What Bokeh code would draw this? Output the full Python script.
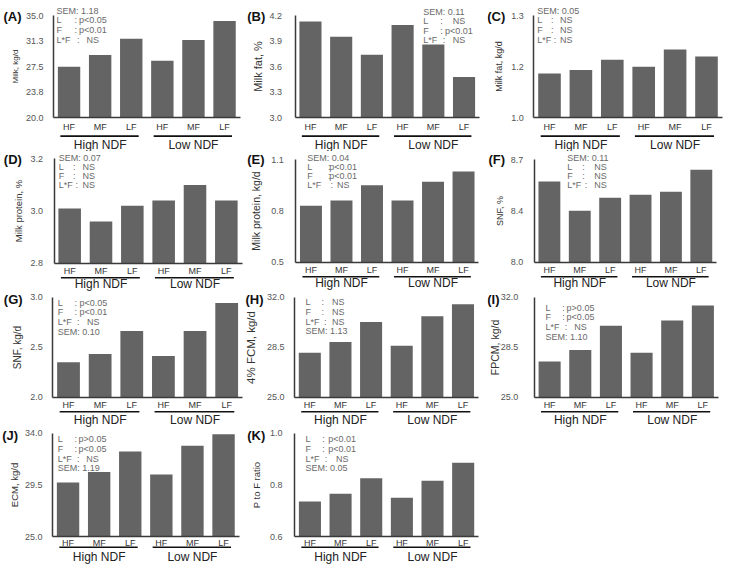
from bokeh.plotting import figure
from bokeh.models import Range1d, FixedTicker, LinearAxis, ColumnDataSource
from bokeh.layouts import gridplot
from bokeh.embed import file_html
from bokeh.resources import INLINE
from bokeh.core.properties import value

FONT = "Liberation Sans"

# ---------------- data ----------------
groups = ["High NDF", "Low NDF"]
forages = ["HF", "MF", "LF"]

milk_yield = [27.5, 29.2, 31.6, 28.35, 31.4, 34.2]
milk_fat_pct = [4.13, 3.95, 3.74, 4.09, 3.86, 3.48]
milk_fat_yield = [1.13, 1.14, 1.17, 1.15, 1.20, 1.18]
milk_protein_pct = [3.01, 2.96, 3.02, 3.04, 3.10, 3.04]
milk_protein_yield = [0.83, 0.86, 0.95, 0.86, 0.97, 1.03]
snf_pct = [8.55, 8.35, 8.44, 8.46, 8.48, 8.63]
snf_yield = [2.35, 2.43, 2.66, 2.41, 2.66, 2.94]
fcm_yield = [28.1, 28.85, 30.25, 28.6, 30.65, 31.5]
fpcm_yield = [27.5, 28.3, 30.0, 28.1, 30.35, 31.4]
ecm_yield = [29.7, 30.6, 32.4, 30.4, 32.9, 33.9]
p_to_f_ratio = [0.735, 0.765, 0.825, 0.75, 0.815, 0.885]

ticks_A = [20.0, 23.75, 27.5, 31.25, 35.0]
tick_labels_A = ["20.0", "23.8", "27.5", "31.3", "35.0"]
ticks_B = [3.0, 3.3, 3.6, 3.9, 4.2]
tick_labels_B = ["3.0", "3.3", "3.6", "3.9", "4.2"]
ticks_C = [1.0, 1.15, 1.3]
tick_labels_C = ["1.0", "1.2", "1.3"]
ticks_D = [2.8, 3.0, 3.2]
tick_labels_D = ["2.8", "3.0", "3.2"]
ticks_E = [0.5, 0.8, 1.1]
tick_labels_E = ["0.5", "0.8", "1.1"]
ticks_F = [8.0, 8.35, 8.7]
tick_labels_F = ["8.0", "8.4", "8.7"]
ticks_G = [2.0, 2.5, 3.0]
tick_labels_G = ["2.0", "2.5", "3.0"]
ticks_H = [25.0, 28.5, 32.0]
tick_labels_H = ["25.0", "28.5", "32.0"]
ticks_I = [25.0, 28.5, 32.0]
tick_labels_I = ["25.0", "28.5", "32.0"]
ticks_J = [25.0, 29.5, 34.0]
tick_labels_J = ["25.0", "29.5", "34.0"]
ticks_K = [0.6, 0.8, 1.0]
tick_labels_K = ["0.6", "0.8", "1.0"]

stats_A = [("SEM: 1.18", None), ("L", "p<0.05"), ("F", "p<0.01"), ("L*F", "NS")]
stats_B = [("SEM: 0.11", None), ("L", "NS"), ("F", "p<0.01"), ("L*F", "NS")]
stats_C = [("SEM: 0.05", None), ("L", "NS"), ("F", "NS"), ("L*F", "NS")]
stats_D = [("SEM: 0.07", None), ("L", "NS"), ("F", "NS"), ("L*F", "NS")]
stats_E = [("SEM: 0.04", None), ("L", "p<0.01"), ("F", "p<0.01"), ("L*F", "NS")]
stats_F = [("SEM: 0.11", None), ("L", "NS"), ("F", "NS"), ("L*F", "NS")]
stats_G = [("L", "p<0.05"), ("F", "p<0.01"), ("L*F", "NS"), ("SEM: 0.10", None)]
stats_H = [("L", "NS"), ("F", "NS"), ("L*F", "NS"), ("SEM: 1.13", None)]
stats_I = [("L", "p>0.05"), ("F", "p<0.05"), ("L*F", "NS"), ("SEM: 1.10", None)]
stats_J = [("L", "p>0.05"), ("F", "p<0.05"), ("L*F", "NS"), ("SEM: 1.19", None)]
stats_K = [("L", "p<0.01"), ("F", "p<0.01"), ("L*F", "NS"), ("SEM: 0.05", None)]

# ---------------- layout / style ----------------
BAR = "#646464"
AXIS = "#3a3a3a"
STAT = "#6a6a6a"

COLS = [(0, 244), (244, 243), (487, 244)]              # (left px, width)
ROWS = [(0, 151), (151, 140), (291, 136), (427, 137)]  # (top px, height)
# below-axis per row: (category standoff, group standoff, underline offset px)
ROWX = [(4, 20, 18.3), (3, 14, 14.5), (3, 16, 14.5), (1, 13, 10.7)]

panels = [
    dict(tag="(A)", row=0, col=0, ylabel="Milk, kg/d", vals=milk_yield, ticks=ticks_A, tl=tick_labels_A,
         fx=(53, 239.6), fy=(15, 117.3), stats=stats_A, sx=56, sy=10, sdy=9.7, colon=18, vc=36.3,
         lab=(3, 16), yfs=8, mls=10, als=3),
    dict(tag="(B)", row=0, col=1, ylabel="Milk fat, %", vals=milk_fat_pct, ticks=ticks_B, tl=tick_labels_B,
         fx=(294.6, 478.9), fy=(15, 117.3), stats=stats_B, sx=422.7, sy=11, sdy=9.5, colon=17, vc=35.7,
         lab=(246.7, 16), yfs=11, mls=13, als=3),
    dict(tag="(C)", row=0, col=2, ylabel="Milk fat, kg/d", vals=milk_fat_yield, ticks=ticks_C, tl=tick_labels_C,
         fx=(533.3, 721.7), fy=(15, 117.3), stats=stats_C, sx=536.7, sy=10, sdy=9.8, colon=13.7, vc=29,
         lab=(486.7, 15.5), yfs=9, mls=10, als=4),
    dict(tag="(D)", row=1, col=0, ylabel="Milk protein, %", vals=milk_protein_pct, ticks=ticks_D, tl=tick_labels_D,
         fx=(53.5, 241.5), fy=(158.3, 262.7), stats=stats_D, sx=58.3, sy=157, sdy=9, colon=14.3, vc=30,
         lab=(3.3, 158.8), yfs=9.5, mls=11, als=4),
    dict(tag="(E)", row=1, col=1, ylabel="Milk protein, kg/d", vals=milk_protein_yield, ticks=ticks_E, tl=tick_labels_E,
         fx=(295.2, 478.3), fy=(159, 261.7), stats=stats_E, sx=306.7, sy=157, sdy=9.2, colon=20.7, vc=36,
         lab=(246.7, 158.8), yfs=10.5, mls=12, als=6),
    dict(tag="(F)", row=1, col=2, ylabel="SNF, %", vals=snf_pct, ticks=ticks_F, tl=tick_labels_F,
         fx=(533.7, 716), fy=(159, 261.7), stats=stats_F, sx=566.7, sy=157, sdy=9, colon=15, vc=33.3,
         lab=(488, 158.5), yfs=9, mls=11, als=3),
    dict(tag="(G)", row=2, col=0, ylabel="SNF, kg/d", vals=snf_yield, ticks=ticks_G, tl=tick_labels_G,
         fx=(52.2, 242), fy=(296.5, 396.7), stats=stats_G, sx=57.3, sy=302, sdy=9.8, colon=16.7, vc=35.5,
         lab=(3.3, 298.5), yfs=10, mls=10, als=4),
    dict(tag="(H)", row=2, col=1, ylabel="4% FCM, kg/d", vals=fcm_yield, ticks=ticks_H, tl=tick_labels_H,
         fx=(294, 477.8), fy=(296.5, 396.7), stats=stats_H, sx=305, sy=301.5, sdy=9.8, colon=16, vc=32.7,
         lab=(245, 298.5), yfs=11.5, mls=10, als=7),
    dict(tag="(I)", row=2, col=2, ylabel="FPCM, kg/d", vals=fpcm_yield, ticks=ticks_I, tl=tick_labels_I,
         fx=(533.8, 717.7), fy=(296.5, 396.7), stats=stats_I, sx=545, sy=307, sdy=9.9, colon=16.7, vc=35,
         lab=(486.7, 298.5), yfs=10.5, mls=16, als=-3),
    dict(tag="(J)", row=3, col=0, ylabel="ECM, kg/d", vals=ecm_yield, ticks=ticks_J, tl=tick_labels_J,
         fx=(52, 238.6), fy=(432.5, 536), stats=stats_J, sx=57.3, sy=438.5, sdy=9.8, colon=16.7, vc=34.7,
         lab=(1.7, 434.5), yfs=9.5, mls=10, als=2),
    dict(tag="(K)", row=3, col=1, ylabel="P to F ratio", vals=p_to_f_ratio, ticks=ticks_K, tl=tick_labels_K,
         fx=(294.1, 478), fy=(432.5, 536), stats=stats_K, sx=305, sy=438.5, sdy=9.8, colon=16.7, vc=36.7,
         lab=(246.7, 434.5), yfs=9.5, mls=12, als=5),
]


def build(cfg):
    rtop, rh = ROWS[cfg["row"]]
    cleft, cw = COLS[cfg["col"]]
    cat_so, grp_so, uoff = ROWX[cfg["row"]]
    ticks = cfg["ticks"]
    ymin, ymax = ticks[0], ticks[-1]
    n = len(groups) * len(forages)

    x0px, x1px = cfg["fx"]
    ytp, ybp = cfg["fy"]
    ppx = n / (x1px - x0px)
    ppy = (ymax - ymin) / (ybp - ytp)
    x_lo = -(x0px - cleft) * ppx
    x_hi = n + (cleft + cw - x1px) * ppx
    y_hi = ymax + (ytp - rtop) * ppy
    y_lo = ymin - (rtop + rh - ybp) * ppy

    def X(px):
        return (px - x0px) * ppx

    def Y(py):
        return ymin + (ybp - py) * ppy

    p = figure(width=cw, height=rh, x_range=Range1d(x_lo, x_hi), y_range=Range1d(y_lo, y_hi),
               output_backend="svg", toolbar_location=None, title=None,
               min_border=0, min_border_left=0, min_border_right=0,
               min_border_top=0, min_border_bottom=0)
    p.background_fill_color = "white"
    p.border_fill_color = "white"
    p.outline_line_color = None
    p.xgrid.visible = False
    p.ygrid.visible = False

    # category positions (one slot per group x forage)
    labels = [f for g in groups for f in forages]
    xpos = [i + 0.5 for i in range(n)]
    src = ColumnDataSource(dict(x=xpos, top=cfg["vals"]))
    p.vbar(x="x", top="top", bottom=ymin, width=0.72, source=src,
           fill_color=BAR, line_color=None)

    # y axis
    ya = p.yaxis[0]
    ya.fixed_location = 0
    ya.ticker = FixedTicker(ticks=ticks)
    ya.major_label_overrides = {t: l for t, l in zip(ticks, cfg["tl"])}
    ya.bounds = (ymin, ymax)
    ya.major_tick_line_color = None
    ya.minor_tick_line_color = None
    ya.major_tick_out = 0
    ya.major_tick_in = 0
    ya.major_label_standoff = cfg["mls"]
    ya.major_label_text_font = FONT
    ya.major_label_text_font_size = "9px"
    ya.major_label_text_color = "#555555"
    ya.axis_label = cfg["ylabel"]
    ya.axis_label_text_font = FONT
    ya.axis_label_text_font_style = "normal"
    ya.axis_label_text_font_size = "%gpx" % cfg["yfs"]
    ya.axis_label_text_color = "#333333"
    ya.axis_label_standoff = cfg["als"]
    ya.axis_line_color = AXIS
    ya.axis_line_width = 1.5

    # x axis: forage categories
    xa = p.xaxis[0]
    xa.fixed_location = ymin
    xa.bounds = (0, n)
    xa.ticker = FixedTicker(ticks=xpos)
    xa.major_label_overrides = {x: l for x, l in zip(xpos, labels)}
    xa.major_tick_line_color = None
    xa.minor_tick_line_color = None
    xa.major_tick_out = 0
    xa.major_tick_in = 0
    xa.major_label_standoff = cat_so
    xa.major_label_text_font = FONT
    xa.major_label_text_font_size = "9px"
    xa.major_label_text_color = "#333333"
    xa.axis_line_color = AXIS
    xa.axis_line_width = 1.5

    # second x axis: NDF groups
    k = len(forages)
    gcent = [sum(xpos[i * k:(i + 1) * k]) / k for i in range(len(groups))]
    ga = LinearAxis(ticker=FixedTicker(ticks=gcent),
                    major_label_overrides={c: g for c, g in zip(gcent, groups)},
                    fixed_location=ymin, axis_line_color=None,
                    major_tick_line_color=None, minor_tick_line_color=None,
                    major_tick_out=0, major_tick_in=0, major_label_standoff=grp_so,
                    major_label_text_font=FONT, major_label_text_font_size="12px",
                    major_label_text_color="#222222")
    p.add_layout(ga, "below")

    # group underlines
    yu = ymin - uoff * ppy
    ux0 = [xpos[i * k] - 0.28 for i in range(len(groups))]
    ux1 = [xpos[(i + 1) * k - 1] + 0.24 for i in range(len(groups))]
    p.segment(x0=ux0, x1=ux1, y0=[yu] * len(groups), y1=[yu] * len(groups),
              line_color="#111111", line_width=1.6)

    # panel tag
    lx, ly = cfg["lab"]
    p.text(x=[X(lx)], y=[Y(ly)], text=[cfg["tag"]], text_font=value(FONT), text_font_style="bold",
           text_font_size="13px", text_baseline="middle", text_align="left", text_color="#111111")

    # statistics text
    lx_, ly_, lt = [], [], []
    cx_, cy_, ct = [], [], []
    for i, (key, val) in enumerate(cfg["stats"]):
        yy = Y(cfg["sy"] + i * cfg["sdy"])
        lx_.append(X(cfg["sx"])); ly_.append(yy); lt.append(key)
        if val is not None:
            cdx = cfg["colon"] if key != "L*F" else max(cfg["colon"] + 2.5, 16.5)
            lx_.append(X(cfg["sx"] + cdx)); ly_.append(yy); lt.append(":")
            cx_.append(X(cfg["sx"] + cfg["vc"])); cy_.append(yy); ct.append(val)
    p.text(x=lx_, y=ly_, text=lt, text_font=value(FONT), text_font_size="9px",
           text_color=STAT, text_baseline="middle", text_align="left")
    p.text(x=cx_, y=cy_, text=ct, text_font=value(FONT), text_font_size="9px",
           text_color=STAT, text_baseline="middle", text_align="center")
    return p


figs = [build(c) for c in panels]
grid = gridplot([[figs[0], figs[1], figs[2]],
                 [figs[3], figs[4], figs[5]],
                 [figs[6], figs[7], figs[8]],
                 [figs[9], figs[10], None]], toolbar_location=None)

open("out.html", "w").write(file_html(grid, INLINE))
